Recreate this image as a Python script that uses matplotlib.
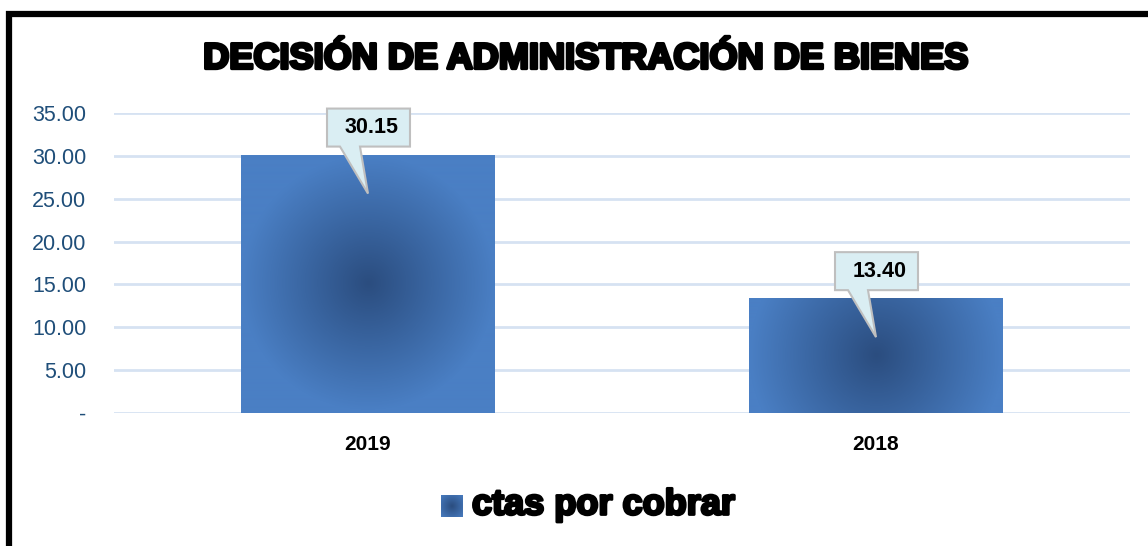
import numpy as np
import matplotlib
matplotlib.use("Agg")
import matplotlib.pyplot as plt
from matplotlib.patches import Rectangle, Polygon
from matplotlib.colors import LinearSegmentedColormap
import matplotlib.patheffects as pe

categories = ["2019", "2018"]
values = [30.15, 13.40]
value_labels = ["30.15", "13.40"]
series_name = "ctas por cobrar"
title = "DECISIÓN DE ADMINISTRACIÓN DE BIENES"
yticks = [0, 5, 10, 15, 20, 25, 30, 35]
ytick_labels = ["-", "5.00", "10.00", "15.00", "20.00", "25.00", "30.00", "35.00"]

W, H = 1148, 546
fig = plt.figure(figsize=(W / 100, H / 100), dpi=100)
fig.patch.set_facecolor("white")

ax = fig.add_axes([114 / W, (H - 413) / H, (1130 - 114) / W, 300 / H])
ax.set_xlim(-0.5, 1.5)
ax.set_ylim(0, 35)
for s in ax.spines.values():
    s.set_visible(False)
ax.set_yticks(yticks)
ax.set_yticklabels(ytick_labels, fontsize=15.5, color="#1f4e79", family="Liberation Sans")
ax.set_xticks(range(len(categories)))
ax.set_xticklabels(categories, fontsize=15, fontweight="bold", color="black", family="Liberation Sans")
ax.tick_params(axis="both", length=0)
ax.tick_params(axis="y", pad=20)
ax.tick_params(axis="x", pad=16)
ax.grid(axis="y", color="#d6e2f2", linewidth=2)
ax.set_axisbelow(True)

cmap = LinearSegmentedColormap.from_list("bar", ["#2b4d7f", "#3a66a2", "#4a7fc4", "#4a7fc4"])
bar_w = 0.5
bars = ax.bar(range(len(categories)), values, width=bar_w, color="#4a7fc4", zorder=2)
fig.canvas.draw()
for b in bars:
    x0, y0, w, h = b.get_x(), b.get_y(), b.get_width(), b.get_height()
    (px0, py0) = ax.transData.transform((x0, y0))
    (px1, py1) = ax.transData.transform((x0 + w, y0 + h))
    nx, ny = int(px1 - px0), int(py1 - py0)
    yy, xx = np.mgrid[0:ny, 0:nx]
    r = np.sqrt((xx - nx / 2) ** 2 + (yy - ny / 2) ** 2) / 190.0
    im = ax.imshow(r, extent=(x0, x0 + w, y0, y0 + h), cmap=cmap, vmin=0, vmax=1,
                   aspect="auto", zorder=3, interpolation="bilinear", origin="lower")
    im.set_clip_path(b)
ax.set_xlim(-0.5, 1.5)
ax.set_ylim(0, 35)

# callouts in pixel offsets
fig.canvas.draw()
for i, v in enumerate(values):
    cx, cy = ax.transData.transform((i, v))
    pts = [(-41, 8), (-28, 8), (0, -39), (-8, 8), (42, 8), (42, 46), (-41, 46)]
    poly = Polygon([(cx + dx, cy + dy) for dx, dy in pts], closed=True,
                   facecolor="#daeef3", edgecolor="#bfbfbf", linewidth=1.5,
                   transform=None, zorder=10)
    fig.patches.append(poly)
    fig.text((cx + 4) / W, (cy + 27) / H, value_labels[i], fontsize=15.5, fontweight="bold",
             family="Liberation Sans", ha="center", va="center", zorder=11)

# title
fig.text(585 / W, (H - 59) / H, title, fontsize=26, fontweight="bold", family="Liberation Sans",
         ha="center", va="center",
         path_effects=[pe.withStroke(linewidth=2.4, foreground="black")])

# legend
lg = np.sqrt(((np.mgrid[0:22, 0:22] - 10.5) ** 2).sum(axis=0)) / 25.0
lax = fig.add_axes([441 / W, (H - 517) / H, 22 / W, 22 / H])
lax.imshow(lg, cmap=cmap, vmin=0, vmax=1, aspect="auto", interpolation="bilinear")
lax.axis("off")
fig.text(472 / W, (H - 505) / H, series_name, fontsize=26, fontweight="bold", family="Liberation Sans",
         ha="left", va="center",
         path_effects=[pe.withStroke(linewidth=2.0, foreground="black")])

# border frame
fig.patches.append(Rectangle((9, -20), W + 50, H - 14 + 20, transform=None, fill=False,
                             edgecolor="black", linewidth=4.5, zorder=20))

fig.savefig("out.png", dpi=100, facecolor="white")
